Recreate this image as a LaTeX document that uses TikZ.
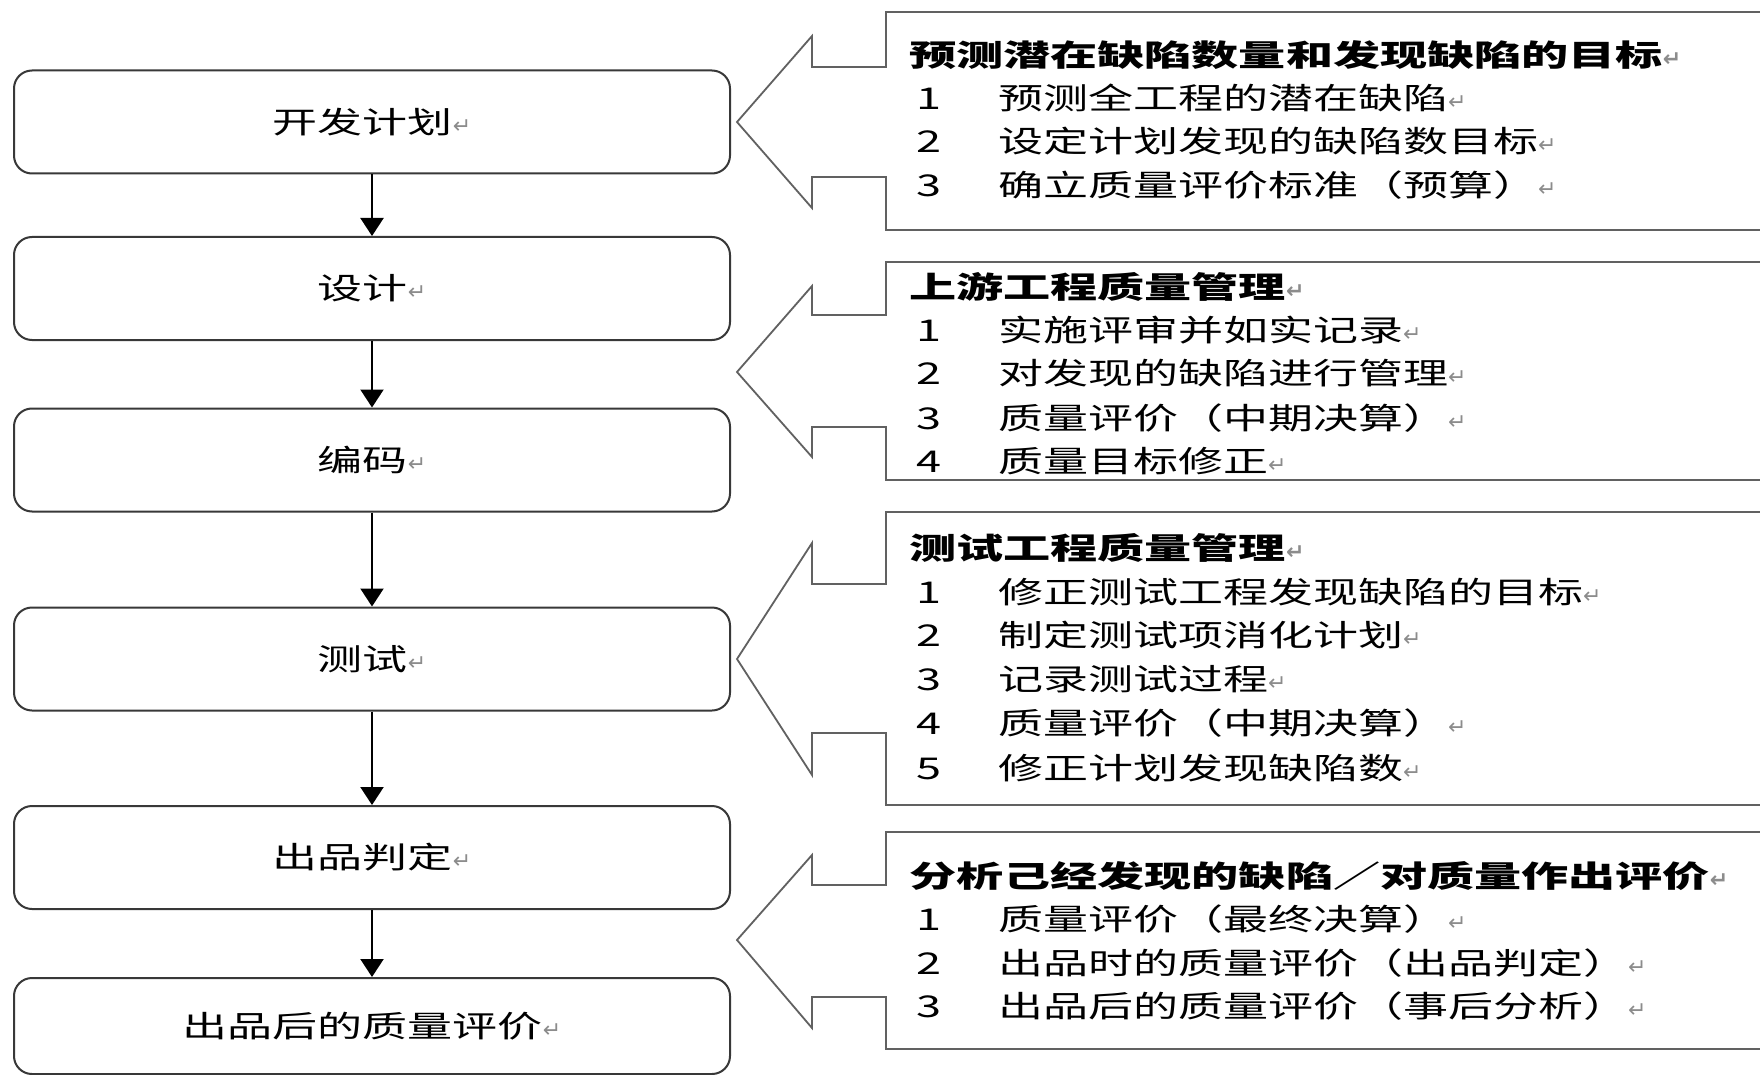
\documentclass[tikz,border=0pt]{standalone}
\usepackage{fontspec}
\usetikzlibrary{arrows.meta}
\newfontfamily\cjk[FakeStretch=1.5]{Noto Sans CJK SC}
\newfontfamily\cjkhead[FakeStretch=1.57]{Noto Sans CJK SC}
\newfontfamily\symfont{DejaVu Sans}
\newcommand\pmark{{\symfont\fontsize{22}{22}\selectfont\color{black!45}↵}}
\definecolor{boxline}{gray}{0.22}
\definecolor{calloutline}{gray}{0.38}

\begin{document}
\begin{tikzpicture}[x=1pt,y=-1pt,
  stage/.style={draw=boxline, line width=2pt, rounded corners=18pt,
    minimum width=716pt, minimum height=103pt, inner sep=0pt,
    font=\cjk\fontsize{30}{32}\selectfont},
  flow/.style={draw=black, line width=2.2pt, -{Triangle[width=23pt,length=18pt]}},
  callout/.style={draw=calloutline, line width=1.8pt, line join=miter},
  head/.style={anchor=base west, inner sep=0pt, font=\cjkhead\bfseries\fontsize{30}{32}\selectfont},
  num/.style={anchor=base, inner sep=0pt, font=\cjk\fontsize{30}{32}\selectfont},
  item/.style={anchor=base west, inner sep=0pt, font=\cjk\fontsize{30}{32}\selectfont}]

\fill[white] (0,0) rectangle (1760,1075);
\useasboundingbox (0,0) rectangle (1760,1075);

% process stages
\node[stage] (plan)   at (372,122)    {开发计划\pmark};
\node[stage] (design) at (372,288.5)  {设计\pmark};
\node[stage] (code)   at (372,460)    {编码\pmark};
\node[stage] (test)   at (372,659)    {测试\pmark};
\node[stage] (judge)  at (372,857.5)  {出品判定\pmark};
\node[stage, minimum height=96pt] (after) at (372,1026) {出品后的质量评价\pmark};

\draw[flow] (plan.south)   -- (design.north);
\draw[flow] (design.south) -- (code.north);
\draw[flow] (code.south)   -- (test.north);
\draw[flow] (test.south)   -- (judge.north);
\draw[flow] (judge.south)  -- (after.north);

% left-pointing callouts, open to the right edge
\begin{scope}
\clip (0,0) rectangle (1760,1075);
\draw[callout] (1790,12) -- (886,12) -- (886,67) -- (812,67) -- (812,36)
  -- (737,122) -- (812,208) -- (812,177) -- (886,177) -- (886,230) -- (1790,230);
\draw[callout] (1790,262) -- (886,262) -- (886,315) -- (812,315) -- (812,286)
  -- (737,372) -- (812,457) -- (812,427) -- (886,427) -- (886,480) -- (1790,480);
\draw[callout] (1790,512) -- (886,512) -- (886,584) -- (812,584) -- (812,543)
  -- (737,659) -- (812,775) -- (812,733) -- (886,733) -- (886,805) -- (1790,805);
\draw[callout] (1790,832) -- (886,832) -- (886,885) -- (812,885) -- (812,855)
  -- (737,940) -- (812,1028) -- (812,997) -- (886,997) -- (886,1049) -- (1790,1049);
\end{scope}

% callout 1
\node[head] (h1) at (909,66.5) {预测潜在缺陷数量和发现缺陷的目标\pmark};
\node[num]  (n11) at (929,109.7) {1};
\node[item] (t11) at (998,109.7) {预测全工程的潜在缺陷\pmark};
\node[num]  (n12) at (929,152.4) {2};
\node[item] (t12) at (998,152.4) {设定计划发现的缺陷数目标\pmark};
\node[num]  (n13) at (929,196.4) {3};
\node[item] (t13) at (998,196.4) {确立质量评价标准（预算）\pmark};

% callout 2
\node[head] (h2) at (909,298) {上游工程质量管理\pmark};
\node[num]  (n21) at (929,341.5) {1};
\node[item] (t21) at (998,341.5) {实施评审并如实记录\pmark};
\node[num]  (n22) at (929,384.5) {2};
\node[item] (t22) at (998,384.5) {对发现的缺陷进行管理\pmark};
\node[num]  (n23) at (929,429) {3};
\node[item] (t23) at (998,429) {质量评价（中期决算）\pmark};
\node[num]  (n24) at (929,472.5) {4};
\node[item] (t24) at (998,472.5) {质量目标修正\pmark};

% callout 3
\node[head] (h3) at (909,559) {测试工程质量管理\pmark};
\node[num]  (n31) at (929,603) {1};
\node[item] (t31) at (998,603) {修正测试工程发现缺陷的目标\pmark};
\node[num]  (n32) at (929,646.5) {2};
\node[item] (t32) at (998,646.5) {制定测试项消化计划\pmark};
\node[num]  (n33) at (929,690.5) {3};
\node[item] (t33) at (998,690.5) {记录测试过程\pmark};
\node[num]  (n34) at (929,734.5) {4};
\node[item] (t34) at (998,734.5) {质量评价（中期决算）\pmark};
\node[num]  (n35) at (929,779.5) {5};
\node[item] (t35) at (998,779.5) {修正计划发现缺陷数\pmark};

% callout 4
\node[head] (h4) at (909,887) {分析己经发现的缺陷／对质量作出评价\pmark};
\node[num]  (n41) at (929,930.5) {1};
\node[item] (t41) at (998,930.5) {质量评价（最终决算）\pmark};
\node[num]  (n42) at (929,974) {2};
\node[item] (t42) at (998,974) {出品时的质量评价（出品判定）\pmark};
\node[num]  (n43) at (929,1017.5) {3};
\node[item] (t43) at (998,1017.5) {出品后的质量评价（事后分析）\pmark};
\end{tikzpicture}
\end{document}
